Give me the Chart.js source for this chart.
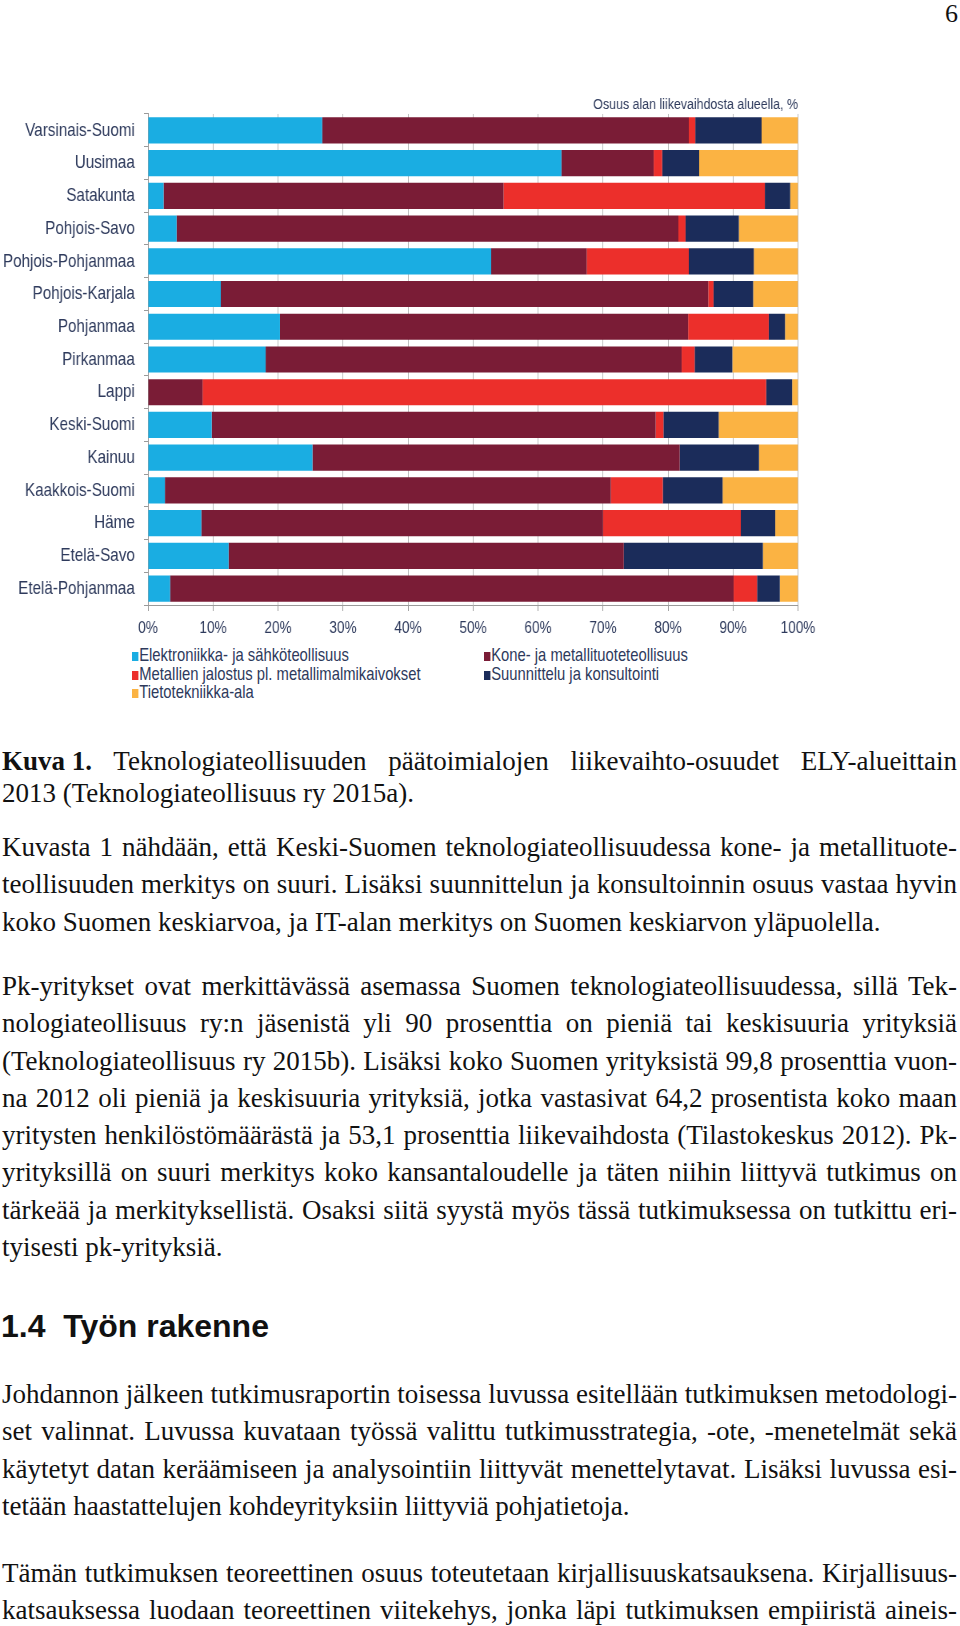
<!DOCTYPE html>
<html lang="fi">
<head>
<meta charset="utf-8">
<script src="https://cdn.jsdelivr.net/npm/chart.js@4"></script>
<style>
  html, body { margin: 0; padding: 0; background: #fff; }
  body {
    width: 960px; height: 1626px; position: relative; overflow: hidden;
    font-family: "Liberation Serif", "Times New Roman", serif; color: #111;
  }
  #pageNo { position: absolute; right: 2px; top: -1px; font-size: 26px; }
  /* kaavion tekstit ovat kapeaa groteskia: piirretään leveämmäksi ja puristetaan vaakasuunnassa */
  #chartBox {
    position: absolute; left: 0; top: 90px; width: 1040px; height: 550px;
    transform: scaleX(0.8); transform-origin: 0 0;
  }
  #legend {
    position: absolute; left: 132px; top: 646px; width: 900px;
    display: grid; grid-template-columns: 440px 420px;
    font-family: "Liberation Sans", Arial, sans-serif;
    font-size: 18.5px; line-height: 18.5px; color: #2e3a5c;
    transform: scaleX(0.8); transform-origin: 0 0;
  }
  #legend .sw { display: inline-block; width: 8px; height: 9px; margin-right: 1px; }
  .txt { position: absolute; left: 2px; width: 955px; font-size: 27px; line-height: 37.3px; }
  .txt div { white-space: nowrap; }
  .keep { word-spacing: 0; }
  #caption { top: 745px; line-height: 32px; }
  #p1 { top: 829px; }
  #p2 { top: 968px; }
  #p3 { top: 1376px; }
  #p4 { top: 1555px; }
  #heading {
    position: absolute; left: 1px; top: 1308px;
    font-family: "Liberation Sans", Arial, sans-serif; font-weight: bold;
    font-size: 32px; line-height: 36px; color: #111;
  }
</style>
</head>
<body>
<div id="pageNo">6</div>

<div id="chartBox"><canvas id="regionChart"></canvas></div>
<div id="legend"></div>

<div class="txt" id="caption">
  <div class="j"><span><b class="keep">Kuva 1.</b> Teknologiateollisuuden päätoimialojen liikevaihto-osuudet ELY-alueittain</span></div>
  <div><span>2013 (Teknologiateollisuus ry 2015a).</span></div>
</div>

<div class="txt" id="p1">
  <div class="j"><span>Kuvasta 1 nähdään, että Keski-Suomen teknologiateollisuudessa kone- ja metallituote-</span></div>
  <div class="j"><span>teollisuuden merkitys on suuri. Lisäksi suunnittelun ja konsultoinnin osuus vastaa hyvin</span></div>
  <div><span>koko Suomen keskiarvoa, ja IT-alan merkitys on Suomen keskiarvon yläpuolella.</span></div>
</div>

<div class="txt" id="p2">
  <div class="j"><span>Pk-yritykset ovat merkittävässä asemassa Suomen teknologiateollisuudessa, sillä Tek-</span></div>
  <div class="j"><span>nologiateollisuus ry:n jäsenistä yli 90 prosenttia on pieniä tai keskisuuria yrityksiä</span></div>
  <div class="j"><span>(Teknologiateollisuus ry 2015b). Lisäksi koko Suomen yrityksistä 99,8 prosenttia vuon-</span></div>
  <div class="j"><span>na 2012 oli pieniä ja keskisuuria yrityksiä, jotka vastasivat 64,2 prosentista koko maan</span></div>
  <div class="j"><span>yritysten henkilöstömäärästä ja 53,1 prosenttia liikevaihdosta (Tilastokeskus 2012). Pk-</span></div>
  <div class="j"><span>yrityksillä on suuri merkitys koko kansantaloudelle ja täten niihin liittyvä tutkimus on</span></div>
  <div class="j"><span>tärkeää ja merkityksellistä. Osaksi siitä syystä myös tässä tutkimuksessa on tutkittu eri-</span></div>
  <div><span>tyisesti pk-yrityksiä.</span></div>
</div>

<div id="heading">1.4&nbsp;&nbsp;Työn rakenne</div>

<div class="txt" id="p3">
  <div class="j"><span>Johdannon jälkeen tutkimusraportin toisessa luvussa esitellään tutkimuksen metodologi-</span></div>
  <div class="j"><span>set valinnat. Luvussa kuvataan työssä valittu tutkimusstrategia, -ote, -menetelmät sekä</span></div>
  <div class="j"><span>käytetyt datan keräämiseen ja analysointiin liittyvät menettelytavat. Lisäksi luvussa esi-</span></div>
  <div><span>tetään haastattelujen kohdeyrityksiin liittyviä pohjatietoja.</span></div>
</div>

<div class="txt" id="p4">
  <div class="j"><span>Tämän tutkimuksen teoreettinen osuus toteutetaan kirjallisuuskatsauksena. Kirjallisuus-</span></div>
  <div class="j"><span>katsauksessa luodaan teoreettinen viitekehys, jonka läpi tutkimuksen empiiristä aineis-</span></div>
</div>

<script>
// ELY-alueet, ylhäältä alas
const regions = [
  "Varsinais-Suomi", "Uusimaa", "Satakunta", "Pohjois-Savo", "Pohjois-Pohjanmaa",
  "Pohjois-Karjala", "Pohjanmaa", "Pirkanmaa", "Lappi", "Keski-Suomi",
  "Kainuu", "Kaakkois-Suomi", "Häme", "Etelä-Savo", "Etelä-Pohjanmaa"
];

const seriesNames = [
  "Elektroniikka- ja sähköteollisuus",
  "Kone- ja metallituoteteollisuus",
  "Metallien jalostus pl. metallimalmikaivokset",
  "Suunnittelu ja konsultointi",
  "Tietotekniikka-ala"
];

// osuudet, % (luettu kuvasta)
const elektroniikka  = [26.8, 63.6,  2.4,  4.4, 52.8, 11.2, 20.3, 18.1,  0.0,  9.8, 25.3,  2.6,  8.2, 12.4,  3.4];
const kone           = [56.4, 14.2, 52.3, 77.2, 14.7, 75.0, 62.8, 64.0,  8.4, 68.3, 56.5, 68.6, 61.8, 60.8, 86.7];
const metallit       = [ 1.0,  1.3, 40.2,  1.1, 15.7,  0.8, 12.4,  2.0, 86.7,  1.2,  0.0,  8.0, 21.2,  0.0,  3.6];
const suunnittelu    = [10.2,  5.7,  3.9,  8.2, 10.0,  6.1,  2.5,  5.8,  4.0,  8.5, 12.2,  9.2,  5.3, 21.4,  3.5];
const tietotekniikka = [ 5.6, 15.2,  1.2,  9.1,  6.8,  6.9,  2.0, 10.1,  0.9, 12.2,  6.0, 11.6,  3.5,  5.4,  2.8];

const xTickLabels = ["0%", "10%", "20%", "30%", "40%", "50%", "60%", "70%", "80%", "90%", "100%"];
const chartTitle = "Osuus alan liikevaihdosta alueella, %";

const colors = ["#1aade2", "#7a1c36", "#ec2f2b", "#1b2c5a", "#fbb343"];
const values = [elektroniikka, kone, metallit, suunnittelu, tietotekniikka];

const squeeze = 0.8;   // sama kuin #chartBox scaleX
const labelFont = "'Liberation Sans', Arial, sans-serif";
const labelColor = "#2e3a5c";

const ctx = document.getElementById("regionChart").getContext("2d");

const chart = new Chart(ctx, {
  type: "bar",
  data: {
    labels: regions,
    datasets: values.map((v, i) => ({
      label: seriesNames[i],
      data: v,
      backgroundColor: colors[i],
      borderWidth: 0,
      barPercentage: 0.8,
      categoryPercentage: 1.0
    }))
  },
  options: {
    indexAxis: "y",
    responsive: true,
    maintainAspectRatio: false,
    animation: false,
    layout: { padding: { left: 0, right: 1040 - 798 / squeeze, top: 0, bottom: 0 } },
    plugins: {
      legend: { display: false },
      tooltip: { enabled: false },
      title: {
        display: true,
        text: chartTitle,
        align: "end",
        color: labelColor,
        font: { family: labelFont, size: 15.5, weight: "normal", lineHeight: 1.16 },
        padding: { top: 6, bottom: 0 }
      }
    },
    scales: {
      x: {
        stacked: true,
        min: 0,
        max: 100,
        ticks: {
          stepSize: 10,
          color: labelColor,
          font: { family: labelFont, size: 17 },
          padding: 7,
          maxRotation: 0,
          callback: (v, i) => xTickLabels[i]
        },
        grid: { color: "#b9b9b9", tickLength: 6, tickColor: "#9a9a9a" },
        border: { color: "#9a9a9a" },
        afterFit: (scale) => { scale.height = 35; }
      },
      y: {
        stacked: true,
        ticks: {
          color: labelColor,
          font: { family: labelFont, size: 19 },
          padding: 11.5
        },
        grid: { drawOnChartArea: false, tickLength: 5, color: "#9a9a9a" },
        border: { color: "#9a9a9a" },
        afterFit: (scale) => { scale.width = 148 / squeeze; }
      }
    }
  }
});

// legenda kahteen sarakkeeseen kuten alkuperäisessä
const legend = document.getElementById("legend");
chart.data.datasets.forEach(ds => {
  const item = document.createElement("div");
  item.innerHTML = '<span class="sw" style="background:' + ds.backgroundColor + '"></span>' + ds.label;
  legend.appendChild(item);
});

// tasataan rivit reunoihin sanavälejä venyttämällä
document.querySelectorAll(".txt .j > span").forEach(span => {
  const w = span.getBoundingClientRect().width;
  let gaps = span.textContent.split(" ").length - 1;
  span.querySelectorAll(".keep").forEach(k => { gaps -= k.textContent.split(" ").length - 1; });
  if (gaps > 0) span.style.wordSpacing = ((955 - w) / gaps) + "px";
});
</script>
</body>
</html>
